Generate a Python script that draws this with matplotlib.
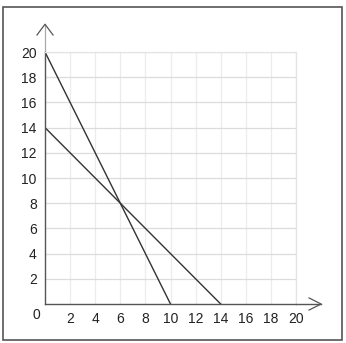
import matplotlib
matplotlib.use("Agg")
import matplotlib.pyplot as plt
from matplotlib.patches import Rectangle

# data
line_a_x = [0, 10]
line_a_y = [20, 0]
line_b_x = [0, 14]
line_b_y = [14, 0]
ticks = [2, 4, 6, 8, 10, 12, 14, 16, 18, 20]

plt.rcParams['font.family'] = ['Liberation Sans', 'DejaVu Sans']

W, H = 346, 343
fig = plt.figure(figsize=(W / 100, H / 100), dpi=100)
ax = fig.add_axes([45 / W, (H - 304) / H, 251 / W, 252 / H])

# outer frame
fig.patches.append(Rectangle((3 / W, 3 / H), 339 / W, 333 / H, transform=fig.transFigure,
                             fill=False, edgecolor='#555555', linewidth=1.2))

ax.set_xlim(0, 20)
ax.set_ylim(0, 20)
ax.set_xticks(ticks)
ax.set_yticks(ticks)
ax.set_xticklabels([str(t) for t in ticks])
ax.set_yticklabels([str(t) for t in ticks])
ax.tick_params(length=0, labelsize=10, labelcolor='#222222', pad=6)
ax.grid(True, axis='x', color='#ececec', linewidth=0.9)
ax.grid(True, axis='y', color='#dcdcdc', linewidth=0.9)
ax.set_axisbelow(True)

for s in ['top', 'right']:
    ax.spines[s].set_color('#e4e4e4')
    ax.spines[s].set_linewidth(0.9)
for s in ['left', 'bottom']:
    ax.spines[s].set_color('#555555')
    ax.spines[s].set_linewidth(1.0)

ax.plot(line_a_x, line_a_y, color='#333333', linewidth=1.0)
ax.plot(line_b_x, line_b_y, color='#333333', linewidth=1.0)

# axis extensions with open arrow heads
ax.plot([20, 22], [0, 0], color='#555555', linewidth=1.0, clip_on=False)
ax.plot([21.04, 22, 21.04], [0.48, 0, -0.48], color='#555555', linewidth=0.9, clip_on=False)
ax.plot([0, 0], [20, 22.2], color='#aaaaaa', linewidth=0.9, clip_on=False)
ax.plot([-0.64, 0, 0.64], [21.35, 22.2, 21.35], color='#555555', linewidth=0.9, clip_on=False)

# shared origin label
ax.text(-0.72, -0.35, '0', ha='center', va='top', fontsize=10, color='#222222')

fig.savefig('out.png', dpi=100)
